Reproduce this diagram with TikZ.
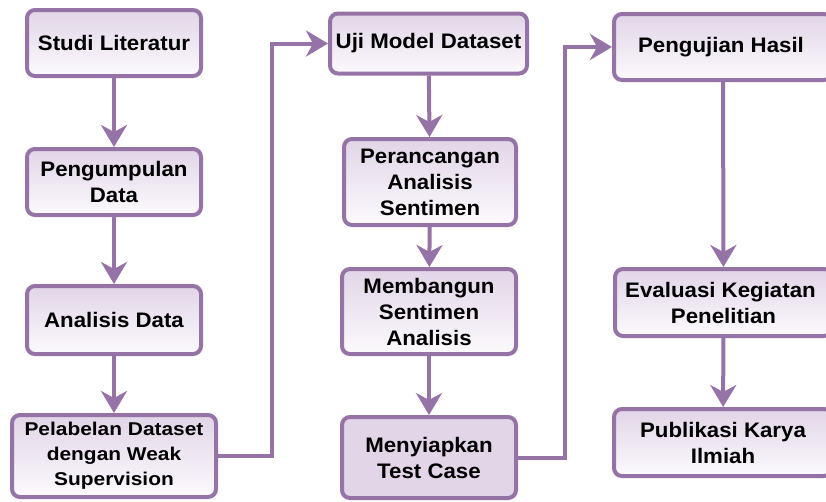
\documentclass[tikz,border=0pt]{standalone}
\usepackage{fontspec}
\setmainfont{Liberation Sans}[FakeStretch=1.06]
\usetikzlibrary{arrows.meta,positioning}
\definecolor{pborder}{HTML}{9673A6}
\definecolor{pfill}{HTML}{E1D5E7}
\definecolor{pfillb}{HTML}{FCFAFD}
\tikzset{
  box/.style={draw=pborder, line width=4pt, rounded corners=8pt,
    top color=pfill, bottom color=pfillb, align=center, inner sep=0pt,
    font=\fontsize{21}{26}\selectfont\bfseries},
  flatbox/.style={box, fill=pfill, top color=pfill, bottom color=pfill},
  conn/.style={draw=pborder, line width=4pt,
    -{Stealth[length=22pt,width=26pt,inset=7pt]}}
}
\begin{document}
\begin{tikzpicture}[x=1pt,y=-1pt]
\useasboundingbox (0,0) rectangle (826,501);
\clip (0,0) rectangle (826,501);
% column 1
\node[box, minimum width=174pt, minimum height=66pt] (n1) at (114,43) {Studi Literatur};
\node[box, minimum width=174pt, minimum height=66pt] (n2) at (114,182) {Pengumpulan\\Data};
\node[box, minimum width=174pt, minimum height=68pt] (n3) at (114,320) {Analisis Data};
\node[box, minimum width=204pt, minimum height=82pt,
  font=\fontsize{18.5}{25}\selectfont\bfseries\addfontfeature{FakeStretch=1.13}] (n4) at (114,456) {Pelabelan Dataset\\dengan Weak\\Supervision};
% column 2
\node[box, minimum width=197pt, minimum height=60pt] (m1) at (428.5,43.5) {Uji Model Dataset};
\node[box, minimum width=172pt, minimum height=86pt] (m2) at (430,182) {Perancangan\\Analisis\\Sentimen};
\node[box, minimum width=174pt, minimum height=85pt] (m3) at (429,311.5) {Membangun\\Sentimen\\Analisis};
\node[flatbox, minimum width=174pt, minimum height=81pt] (m4) at (429,457.5) {Menyiapkan\\Test Case};
% column 3
\node[box, minimum width=218pt, minimum height=66pt] (p1) at (723,47) {\hspace*{-4pt}Pengujian Hasil};
\node[box, minimum width=217pt, minimum height=67pt] (p2) at (723.5,302.5) {\hspace*{-6pt}Evaluasi Kegiatan\\Penelitian};
\node[box, minimum width=218pt, minimum height=67pt] (p3) at (723,442.5) {Publikasi Karya\\Ilmiah};
% connectors
\draw[conn] (n1) -- (n2);
\draw[conn] (n2) -- (n3);
\draw[conn] (n3) -- (n4);
\draw[conn] (n4.east) -- ++(54,0) |- (m1.west);
\draw[conn] (m1) -- (m2);
\draw[conn] (m2) -- (m3);
\draw[conn] (m3) -- (m4);
\draw[conn] (m4.east) -- ++(47,0) |- (p1.west);
\draw[conn] (p1) -- (p2);
\draw[conn] (p2) -- (p3);
\end{tikzpicture}
\end{document}
